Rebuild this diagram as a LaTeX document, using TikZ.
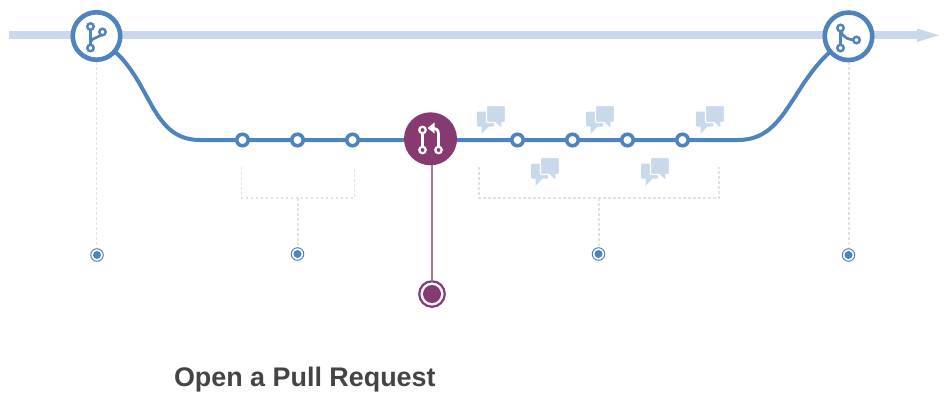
\documentclass[tikz,border=0pt]{standalone}
\usepackage{fontspec}
\setmainfont{Liberation Sans}
\usetikzlibrary{calc}
\definecolor{flow}{HTML}{4F83BD}
\definecolor{pale}{HTML}{C9D9EC}
\definecolor{plum}{HTML}{863A6F}
\definecolor{plumline}{HTML}{AD789F}
\definecolor{dots}{HTML}{E2E2E2}
\definecolor{titlecol}{HTML}{444444}
\tikzset{
  every node/.style={inner sep=0pt,outer sep=0pt},
  bigcirc/.style={circle,draw=flow,line width=4.6pt,fill=white,minimum size=47.5pt},
  commit/.style={circle,draw=flow,line width=3.6pt,fill=white,minimum size=11.5pt},
  prcirc/.style={circle,fill=plum,minimum size=53pt},
  endcirc/.style={circle,draw=plum,line width=2.2pt,fill=white,minimum size=25.5pt},
  endin/.style={circle,fill=plum,minimum size=18pt},
  marker/.style={circle,draw=flow,line width=1pt,fill=white,minimum size=12.5pt},
  markerin/.style={circle,fill=flow,minimum size=8pt},
  flowline/.style={draw=flow,line width=4pt},
  dotline/.style={draw=dots,line width=1.3pt,dash pattern=on 2.6pt off 2.4pt},
  iconline/.style={line width=2.7pt,line cap=round,line join=round},
  iconblue/.style={circle,draw=flow,line width=2.4pt,fill=white,minimum size=6.5pt},
  iconwhite/.style={circle,draw=white,line width=2.2pt,fill=plum,minimum size=6.5pt},
  chat/.pic={
    \fill[pale] (1,5.5) -- (16,5.5) -- (17,6.5) -- (17,19.5) -- (16,20.5) -- (11.5,20.5) -- (4.5,28) -- (4.5,20.5) -- (1,20.5) -- (0,19.5) -- (0,6.5) -- cycle;
    \fill[pale,draw=white,line width=1.2pt] (10.5,-0.5) -- (27.5,-0.5) -- (28.5,0.5) -- (28.5,15.5) -- (27.5,16.5) -- (25,16.5) -- (25,23) -- (18,16.5) -- (10.5,16.5) -- (9.5,15.5) -- (9.5,0.5) -- cycle;
  }
}
\begin{document}
\begin{tikzpicture}[x=1pt,y=-1pt]
\useasboundingbox (0,0) rectangle (948,407);
% main timeline
\fill[pale] (9,31) rectangle (918,39.4);
\fill[pale] (917,28.5) -- (939,35.2) -- (917,42) -- cycle;
% dotted guides
\coordinate (m1) at (97,255);
\coordinate (m2) at (297.5,254);
\coordinate (m3) at (598.5,254);
\coordinate (m4) at (848.5,255);
\coordinate (lb1) at (241.5,167); \coordinate (lb2) at (241.5,198);
\coordinate (lb3) at (354.5,198); \coordinate (lb4) at (354.5,167);
\coordinate (lbm) at (298,198);
\coordinate (rb1) at (479,167); \coordinate (rb2) at (479,198);
\coordinate (rb3) at (719,198); \coordinate (rb4) at (719,167);
\coordinate (rbm) at (599,198);
\draw[dotline] (96.5,62) -- (96.5,248);
\draw[dotline] (849,62) -- (849,248);
\draw[dotline] (lb1) -- (lb2) -- (lb3) -- (lb4);
\draw[dotline] (lbm) -- (298,248);
\draw[dotline] (rb1) -- (rb2) -- (rb3) -- (rb4);
\draw[dotline] (rbm) -- (599,248);
% branch flow
\coordinate (curveL) at (200,140);
\coordinate (curveR) at (738,140);
\node[bigcirc] (start) at (96.5,36) {};
\node[bigcirc] (merge) at (848.5,36.3) {};
\draw[flowline] (start.-40) .. controls (152,85) and (152,140) .. (curveL) -- (curveR) .. controls (785,140) and (790,88) .. (merge.-140);
% pull request stem
\node[prcirc] (pr) at (430.5,138.8) {};
\node[endcirc] (prend) at (432,294) {};
\node[endin] (prendin) at (432,294) {};
\draw[draw=plumline,line width=1.5pt] (431.8,165) -- (431.8,281);
% commits
\foreach \n/\x in {c1/242.5,c2/297.5,c3/352.5,c4/517.5,c5/572.5,c6/627.5,c7/682.5}
  \node[commit] (\n) at (\x,140) {};
% markers
\foreach \n/\c in {k1/m1,k2/m2,k3/m3,k4/m4}{
  \node[marker] (\n) at (\c) {};
  \node[markerin] at (\c) {};
}
% chats
\foreach \x/\y in {477/106,586/106,696/106,531/158,641/158}
  \pic at (\x,\y) {chat};
% fork icon
\coordinate (fkj) at (90.5,42);
\draw[flow,iconline] (90.5,27) -- (90.5,48);
\draw[flow,iconline] (102.5,32) .. controls (102.5,38) and (91,37) .. (fkj);
\node[iconblue] (fa) at (90.5,26.5) {};
\node[iconblue] (fb) at (102.5,32) {};
\node[iconblue] (fc) at (90.5,48) {};
% merge icon
\draw[flow,iconline] (840.5,28) -- (840.5,48);
\draw[flow,iconline] (840.5,30) .. controls (842,37) and (848,40) .. (856.5,40);
\node[iconblue] (ga) at (840.5,28) {};
\node[iconblue] (gb) at (856.5,40) {};
\node[iconblue] (gc) at (840.5,48) {};
% pull request icon
\draw[white,iconline] (422.5,130) -- (422.5,150);
\draw[white,iconline] (438.5,150) -- (438.5,134) .. controls (438.5,130) and (436,128) .. (433,128);
\fill[white] (427.5,128) -- (434.5,122.5) -- (434.5,133.5) -- cycle;
\node[iconwhite] (pa) at (422.5,130) {};
\node[iconwhite] (pb) at (422.5,150) {};
\node[iconwhite] (pc) at (438.5,150) {};
% title
\node[anchor=base west,text=titlecol,font=\fontsize{26.9}{30}\selectfont\bfseries] (title) at (174,386) {Open a Pull Request};
\end{tikzpicture}
\end{document}
